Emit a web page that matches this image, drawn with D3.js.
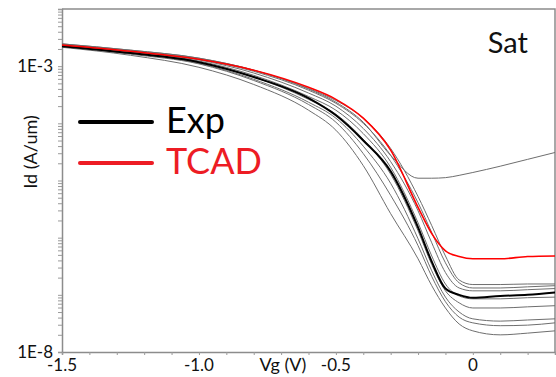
<!DOCTYPE html>
<html>
<head>
<meta charset="utf-8">
<script src="https://cdn.jsdelivr.net/npm/d3@7"></script>
<style>
  body { margin: 0; background: #fff; }
  svg { display: block; }
  text { font-family: Lato, "Open Sans", sans-serif; }
</style>
</head>
<body>
<div id="chart"></div>
<script>
// gate voltage samples (V)
const vg = [-1.5, -1.25, -1.0, -0.8, -0.6, -0.5, -0.4, -0.3, -0.2, -0.15, -0.1, -0.05, 0, 0.1, 0.2, 0.3];

// log10(Id [A/um])
const tcad    = [-2.63, -2.74, -2.88, -3.07, -3.37, -3.58, -3.91, -4.47, -5.47, -5.93, -6.23, -6.33, -6.37, -6.37, -6.33, -6.32];
const expMean = [-2.65, -2.77, -2.93, -3.19, -3.56, -3.86, -4.30, -4.84, -5.82, -6.42, -6.89, -7.00, -7.05, -7.02, -7.00, -6.96];

const expDev1 = [-2.61, -2.72, -2.86, -3.07, -3.40, -3.63, -3.98, -4.56, -4.96, -4.96, -4.95, -4.91, -4.86, -4.75, -4.63, -4.51];
const expDev2 = [-2.61, -2.72, -2.86, -3.07, -3.39, -3.60, -3.91, -4.44, -5.28, -5.79, -6.32, -6.74, -6.82, -6.82, -6.81, -6.81];
const expDev3 = [-2.63, -2.74, -2.88, -3.09, -3.42, -3.65, -4.00, -4.56, -5.39, -5.91, -6.44, -6.79, -6.88, -6.88, -6.86, -6.84];
const expDev4 = [-2.63, -2.75, -2.89, -3.12, -3.47, -3.70, -4.09, -4.67, -5.53, -6.09, -6.61, -6.88, -6.93, -6.93, -6.91, -6.89];
const expDev5 = [-2.63, -2.75, -2.91, -3.16, -3.53, -3.77, -4.18, -4.77, -5.74, -6.32, -6.81, -7.02, -7.07, -7.07, -7.05, -7.04];
const expDev6 = [-2.65, -2.77, -2.93, -3.19, -3.58, -3.84, -4.28, -4.89, -5.88, -6.47, -6.93, -7.14, -7.23, -7.23, -7.21, -7.19];
const expDev7 = [-2.65, -2.77, -2.95, -3.23, -3.63, -3.91, -4.40, -5.05, -6.02, -6.58, -7.04, -7.30, -7.42, -7.46, -7.44, -7.42];
const expDev8 = [-2.65, -2.79, -2.96, -3.25, -3.67, -3.98, -4.53, -5.26, -6.14, -6.68, -7.12, -7.39, -7.49, -7.54, -7.53, -7.49];
const expDev9 = [-2.67, -2.81, -3.02, -3.32, -3.77, -4.12, -4.74, -5.58, -6.37, -6.84, -7.23, -7.51, -7.63, -7.70, -7.67, -7.63];

const xTickLabels = [-1.5, -1.0, -0.5, 0];
const yTickLabels = [1e-8, 1e-3];

const width = 556, height = 377;
const margin = {top: 9, right: 1, bottom: 25, left: 62};

const x = d3.scaleLinear().domain([-1.5, 0.3]).range([margin.left, width - margin.right]);
const y = d3.scaleLog().domain([1e-8, 1e-2]).range([height - margin.bottom, margin.top]);

const svg = d3.select('#chart').append('svg')
  .attr('width', width)
  .attr('height', height);

// frame
svg.append('path')
  .attr('d', 'M' + x.range()[0] + ',' + y.range()[1] + 'H' + x.range()[1] + 'V' + y.range()[0])
  .attr('fill', 'none')
  .attr('stroke', '#8c8c8c')
  .attr('stroke-width', 1.5);

// y axis: decade + minor ticks
const yAxis = d3.axisLeft(y)
  .tickValues(y.ticks())
  .tickSize(4)
  .tickFormat('');
const gy = svg.append('g')
  .attr('transform', 'translate(' + margin.left + ',0)')
  .call(yAxis);
gy.select('.domain').attr('stroke', '#8c8c8c').attr('stroke-width', 1.5);
gy.selectAll('.tick line').attr('stroke', '#9a9a9a');

svg.append('g').selectAll('text')
  .data(yTickLabels)
  .join('text')
  .attr('x', margin.left - 9)
  .attr('y', d => y(d))
  .attr('dy', '0.35em')
  .attr('text-anchor', 'end')
  .attr('font-size', 17)
  .attr('fill', '#111')
  .text(d => '1E' + Math.round(Math.log10(d)));

// x axis
const xAxis = d3.axisBottom(x)
  .tickValues(d3.range(-15, 4).map(d => d / 10))
  .tickSize(3)
  .tickFormat('');
const gx = svg.append('g')
  .attr('transform', 'translate(0,' + y.range()[0] + ')')
  .call(xAxis);
gx.select('.domain').attr('stroke', '#8c8c8c').attr('stroke-width', 1.5);
gx.selectAll('.tick line').attr('stroke', '#9a9a9a');

svg.append('g').selectAll('text')
  .data(xTickLabels)
  .join('text')
  .attr('x', d => x(d))
  .attr('y', 371)
  .attr('text-anchor', 'middle')
  .attr('font-size', 17)
  .attr('fill', '#111')
  .text(d => d === 0 ? '0' : d.toFixed(1));

svg.append('text')
  .attr('x', 283)
  .attr('y', 371)
  .attr('text-anchor', 'middle')
  .attr('font-size', 18)
  .attr('fill', '#111')
  .text('Vg (V)');

svg.append('text')
  .attr('transform', 'translate(37,152) rotate(-90)')
  .attr('text-anchor', 'middle')
  .attr('font-size', 18)
  .attr('fill', '#111')
  .text('Id (A/um)');

// curves
const line = d3.line()
  .x((d, i) => x(vg[i]))
  .y(d => y(Math.pow(10, d)))
  .curve(d3.curveMonotoneX);

const devices = [expDev1, expDev2, expDev3, expDev4, expDev5, expDev6, expDev7, expDev8, expDev9];

svg.append('g').selectAll('path')
  .data(devices)
  .join('path')
  .attr('d', line)
  .attr('fill', 'none')
  .attr('stroke', '#6e6e6e')
  .attr('stroke-width', 1);

svg.append('path')
  .datum(expMean)
  .attr('d', line)
  .attr('fill', 'none')
  .attr('stroke', '#000')
  .attr('stroke-width', 2);

svg.append('path')
  .datum(tcad)
  .attr('d', line)
  .attr('fill', 'none')
  .attr('stroke', '#ff0000')
  .attr('stroke-width', 1.6);

// legend
const legend = [
  {name: 'Exp', color: '#000', y: 122},
  {name: 'TCAD', color: '#ed1c24', y: 163}
];
const lg = svg.append('g').selectAll('g')
  .data(legend)
  .join('g');
lg.append('line')
  .attr('x1', 80).attr('x2', 152)
  .attr('y1', d => d.y).attr('y2', d => d.y)
  .attr('stroke', d => d.color)
  .attr('stroke-width', 4)
  .attr('stroke-linecap', 'round');
lg.append('text')
  .attr('x', 166)
  .attr('y', d => d.y + 11)
  .attr('font-size', 36)
  .attr('fill', d => d.color)
  .text(d => d.name);

svg.append('text')
  .attr('x', 528)
  .attr('y', 53)
  .attr('text-anchor', 'end')
  .attr('font-size', 29)
  .attr('fill', '#111')
  .text('Sat');
</script>
</body>
</html>
